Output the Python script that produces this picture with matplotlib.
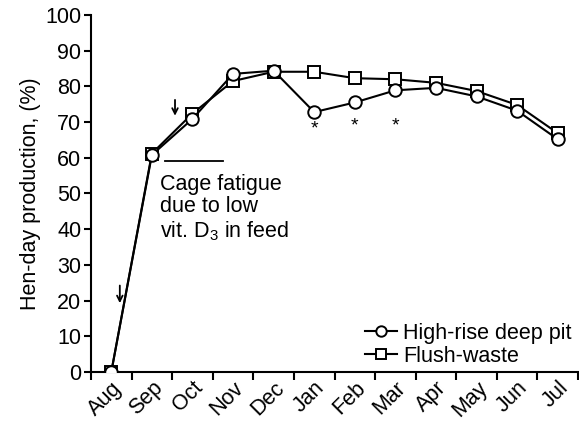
import matplotlib
matplotlib.use("Agg")
import matplotlib.pyplot as plt

plt.rcParams['font.family'] = ['Liberation Sans', 'DejaVu Sans']
plt.rcParams['mathtext.fontset'] = 'custom'
plt.rcParams['mathtext.rm'] = 'Liberation Sans'
plt.rcParams['mathtext.it'] = 'Liberation Sans:italic'

months = ["Aug", "Sep", "Oct", "Nov", "Dec", "Jan", "Feb", "Mar", "Apr", "May", "Jun", "Jul"]
high_rise = [0, 60.8, 70.9, 83.5, 84.4, 72.8, 75.5, 78.9, 79.6, 77.2, 73.2, 65.2]
flush_waste = [0, 61.2, 72.4, 81.5, 84.1, 84.1, 82.3, 82.0, 81.0, 78.7, 74.8, 66.9]
star_months = [5, 6, 7]
star_values = [68.0, 69.0, 69.0]
yticks = list(range(0, 101, 10))

FS = 15.5

fig = plt.figure(figsize=(5.79, 4.21), dpi=100)
ax = fig.add_axes([91/579, 1-372/421, (578-91)/579, (372-15)/421])

x = list(range(len(months)))
ax.plot(x, flush_waste, '-', color='black', lw=1.5, marker='s', ms=8.5,
        mfc='white', mec='black', mew=1.4, label='Flush-waste', zorder=3)
ax.plot(x, high_rise, '-', color='black', lw=1.5, marker='o', ms=9,
        mfc='white', mec='black', mew=1.4, label='High-rise deep pit', zorder=4)

for m, v in zip(star_months, star_values):
    ax.text(m, v, '*', ha='center', va='center', fontsize=14)

# arrows
ax.annotate('', xy=(0.21, 18.5), xytext=(0.21, 25),
            arrowprops=dict(arrowstyle='->', color='black', lw=1.3))
ax.annotate('', xy=(1.57, 71), xytext=(1.57, 77),
            arrowprops=dict(arrowstyle='->', color='black', lw=1.3))

ax.plot([1.32, 2.75], [59.2, 59.2], color='black', lw=1.3)
ax.text(1.21, 55.6, 'Cage fatigue\ndue to low\nvit. D$_3$ in feed', ha='left', va='top',
        fontsize=FS, linespacing=1.12)

ax.set_xlim(-0.5, 11.5)
ax.set_ylim(0, 100)
ax.set_yticks(yticks)
ax.set_xticks([i - 0.5 for i in range(13)], minor=False)
ax.set_xticklabels([])
ax.set_xticks(x, minor=True)
ax.set_xticklabels(months, minor=True, rotation=45, ha='right', rotation_mode='anchor', fontsize=FS)
ax.tick_params(axis='x', which='minor', length=0, pad=4)
ax.tick_params(axis='x', which='major', length=6, width=1.5, direction='out')
ax.tick_params(axis='y', length=5, width=1.5, direction='out', labelsize=FS, pad=2)
for s in ['top', 'right']:
    ax.spines[s].set_visible(False)
for s in ['left', 'bottom']:
    ax.spines[s].set_linewidth(1.5)
ax.set_ylabel('Hen-day production, (%)', fontsize=FS, labelpad=3)

handles, labels = ax.get_legend_handles_labels()
leg = ax.legend(handles[::-1], labels[::-1], loc='lower right', frameon=False, fontsize=FS,
                handlelength=1.5, handletextpad=0.3, labelspacing=0.1,
                borderaxespad=0.0, bbox_to_anchor=(1.005, -0.01))
for h in leg.legend_handles:
    h.set_markersize(7.5)

fig.savefig('out.png', dpi=100)
